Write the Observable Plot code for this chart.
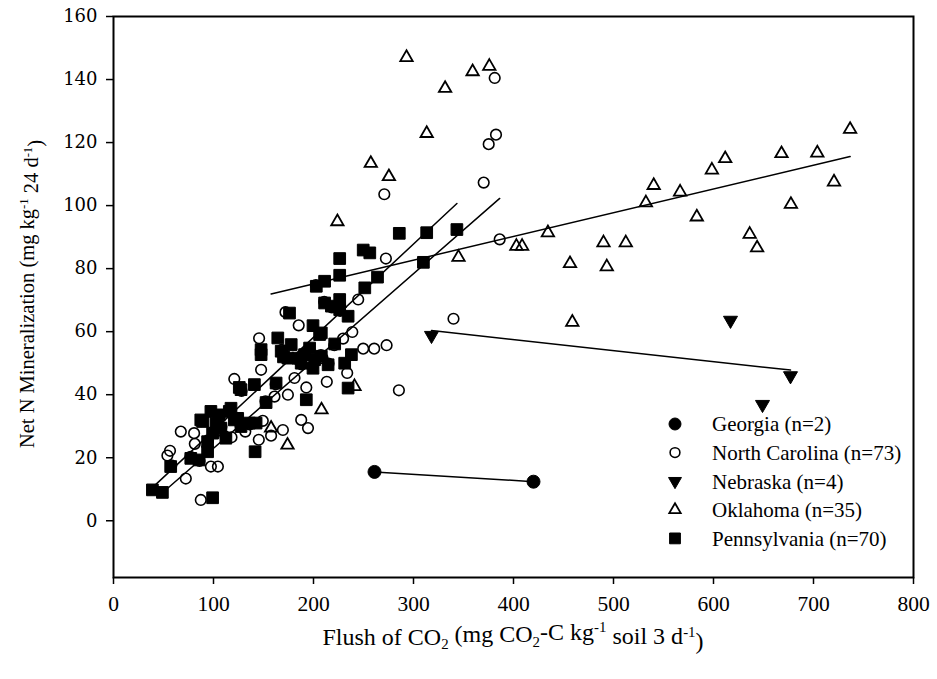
<!DOCTYPE html>
<html>
<head>
<meta charset="utf-8">
<script src="https://cdn.jsdelivr.net/npm/d3@7"></script>
<script src="https://cdn.jsdelivr.net/npm/@observablehq/plot@0.6"></script>
<style>
  body { margin: 0; background: #fff; }
  #chart { width: 937px; height: 679px; }
  #chart svg { display: block; overflow: visible; }
</style>
</head>
<body>
<div id="chart"></div>
<script>
// Flush of CO2 (x) vs. net N mineralization (y), by state.
const georgiaX = [261, 420];
const georgiaY = [15.5, 12.4];

const nebraskaX = [318, 617, 677, 649];
const nebraskaY = [58.8, 63.6, 46.0, 36.9];

const oklahomaX = [293, 359.1, 375.8, 331.6, 313.2, 257.3, 275.4, 223.9, 736.6, 668, 703.8, 611.7,
  598.4, 720.5, 540.2, 566.6, 677.4, 532.4, 583.3, 434.4, 402.9, 408.6, 490, 512.3, 636.2, 643.6,
  345, 456.5, 493.3, 458.8, 174, 208, 157.6, 241, 226];
const oklahomaY = [147, 142.5, 144.2, 137.2, 122.9, 113.4, 109.2, 94.9, 124.2, 116.5, 116.7, 114.9,
  111.3, 107.5, 106.4, 104.3, 100.4, 100.9, 96.4, 91.4, 87.1, 87.1, 88.2, 88.2, 90.9, 86.6,
  83.6, 81.6, 80.6, 63, 24, 35.2, 29.4, 42.6, 69];

const northCarolinaX = [53.9, 56.5, 72.3, 87.3, 67.3, 80.6, 81.3, 104.4, 97.4, 102.4, 118, 131.8,
  145.3, 157.6, 169.4, 149.3, 161, 174.4, 181, 192.8, 187.7, 194.5, 120.8, 147.6, 145.6, 172,
  185.2, 209, 213.3, 233.7, 229.6, 238.8, 244.7, 249.7, 260.7, 273.1, 272.4, 270.8, 285.4, 340,
  386.2, 370.2, 375.2, 382.5, 381.2,
  57.8, 77, 86, 94.5, 87.8, 105, 107.9, 117, 121.3, 127, 112, 99.6, 136.2, 152, 128, 162.2,
  168.2, 184, 191.5, 199, 188.1, 207.4, 215, 220.8, 218.3, 210.7, 226.6, 202.4];
const northCarolinaY = [20.7, 22.2, 13.4, 6.6, 28.3, 27.8, 24.4, 17.2, 17.2, 28.3, 26.5, 28.3,
  25.7, 27, 28.8, 31.7, 39.4, 40, 45.3, 42.3, 32, 29.4, 45, 47.9, 57.9, 66.2,
  62, 51.6, 44.1, 46.9, 57.8, 59.9, 70.2, 54.6, 54.6, 55.7, 83.2, 103.6, 41.4, 64.1,
  89.3, 107.3, 119.5, 122.5, 140.5,
  17.6, 20.3, 19, 25.5, 31.6, 33.2, 29.8, 35.3, 32.4, 30.3, 26.7, 28.1, 30.6, 37.9, 41.2, 43.3,
  54.2, 51.2, 53.1, 48.8, 49.6, 52.6, 49.9, 55.7, 67.7, 69.5, 66.6, 74.8];

const pennsylvaniaX = [38.9, 48.9, 99.1, 57.2, 77.3, 85.6, 94.1, 94.1, 87.3, 97.4, 105.7, 107.4,
  117.5, 120.8, 127.5, 112.4, 99.1, 89.1, 102.4, 115.8, 124.2, 142.6, 141.6, 135.8, 152.6, 127.5,
  140.9, 125.8, 162.6, 147.6, 147.6, 164.3, 167.7, 174.4, 184.4, 191.1, 201.1, 199.5, 187.7, 196.1,
  207.8, 214.6, 192.8, 234.6, 237.9, 231.2, 221.2, 207.8, 177.7, 176, 199.5, 206.1, 234.6, 226.2,
  226.2, 217.9, 211.1, 202.8, 211.1, 226.2, 264, 251.3, 226.2, 249.7, 256.3, 285.8, 313.2, 343.4,
  309.9, 170];
const pennsylvaniaY = [9.8, 9.0, 7.3, 17.2, 19.8, 19.3, 21.9, 25.1, 32, 34.7, 33.6, 29.4,
  35.7, 32, 29.9, 26.2, 27.8, 31.5, 31, 34.7, 32.5, 31, 21.9, 31, 37.5, 41.6,
  43.2, 42.3, 43.7, 52.7, 54.3, 58, 53.8, 51.6, 51.6, 52.7, 51.1, 48.4, 50, 54.8,
  52.2, 49.5, 38.4, 42.1, 52.7, 50, 56.1, 59.6, 55.9, 65.9, 61.9, 59.1, 64.9, 67,
  70.2, 68.1, 69.1, 74.4, 76, 77.9, 77.3, 73.9, 83.2, 85.9, 85, 91.2, 91.4, 92.4,
  82, 52];

// Legend order, sample counts and fitted lines (slope, intercept) per state
const states = ["Georgia", "North Carolina", "Nebraska", "Oklahoma", "Pennsylvania"];
const counts = [2, 73, 4, 35, 70];
const fitSlope = [-0.0195, 0.277, -0.035, 0.0753, 0.296];
const fitIntercept = [20.6, -4.7, 71.5, 60.1, -1.0];

const xTicks = [0, 100, 200, 300, 400, 500, 600, 700, 800];
const yTicks = [0, 20, 40, 60, 80, 100, 120, 140, 160];

const seriesX = [georgiaX, northCarolinaX, nebraskaX, oklahomaX, pennsylvaniaX];
const seriesY = [georgiaY, northCarolinaY, nebraskaY, oklahomaY, pennsylvaniaY];

// marker style per state
const markerStyle = [
  {symbol: "circle", r: 6.5, fill: "black", stroke: "black", strokeWidth: 1, rotate: 0},
  {symbol: "circle", r: 5.3, fill: "none", stroke: "black", strokeWidth: 1.6, rotate: 0},
  {symbol: "triangle", r: 5.2, fill: "black", stroke: "black", strokeWidth: 1, rotate: 180},
  {symbol: "triangle", r: 4.6, fill: "none", stroke: "black", strokeWidth: 1.8, rotate: 0},
  {symbol: "square", r: 6.6, fill: "black", stroke: "black", strokeWidth: 1, rotate: 0}
];

const rows = states.map((s, i) => seriesX[i].map((x, j) => ({state: s, x, y: seriesY[i][j]})));

// fitted line across each state's x range
const fitRows = states.flatMap((s, i) => {
  const [x0, x1] = d3.extent(seriesX[i]);
  return [x0, x1].map(x => ({state: s, x, y: fitIntercept[i] + fitSlope[i] * x}));
});

const font = "'Liberation Serif', 'Times New Roman', Times, serif";
const yTickFont = "'DejaVu Serif', Georgia, serif";

const dotMarks = [1, 3, 2, 0, 4].map(i => Plot.dot(rows[i], {
  x: "x", y: "y",
  symbol: markerStyle[i].symbol,
  r: markerStyle[i].r,
  fill: markerStyle[i].fill,
  stroke: markerStyle[i].stroke,
  strokeWidth: markerStyle[i].strokeWidth,
  rotate: markerStyle[i].rotate
}));

const margin = {top: 16, right: 24, bottom: 102, left: 113};

const plot = Plot.plot({
  width: 937,
  height: 679,
  marginTop: margin.top,
  marginRight: margin.right,
  marginBottom: margin.bottom,
  marginLeft: margin.left,
  x: {domain: [0, 800]},
  y: {domain: [-18, 160]},
  style: {fontFamily: font, background: "white", color: "black"},
  marks: [
    ...dotMarks,
    Plot.line(fitRows, {x: "x", y: "y", z: "state", stroke: "black", strokeWidth: 1.5}),
    Plot.frame({stroke: "black", strokeWidth: 2}),
    Plot.axisX({ticks: xTicks, tickSize: 7, tickPadding: 11, fontSize: 21.5, label: null,
      strokeWidth: 1.5, tickFormat: d => String(d)}),
    Plot.axisY({ticks: yTicks, tickSize: 7, tickPadding: 9, fontSize: 18, fontFamily: yTickFont,
      label: null, strokeWidth: 1.5, tickFormat: d => String(d)})
  ]
});

document.getElementById("chart").appendChild(plot);

// axis titles with sub/superscripts, and the in-plot legend
const svg = d3.select(plot);
const frameLeft = margin.left, frameRight = 937 - margin.right;
const frameTop = margin.top, frameBottom = 679 - margin.bottom;

function richText(g, parts) {
  parts.forEach(([t, kind]) => {
    const ts = g.append("tspan").text(t);
    if (kind === "sub") ts.attr("font-size", "0.62em").attr("dy", "0.3em");
    else if (kind === "sup") ts.attr("font-size", "0.62em").attr("dy", "-0.5em");
    else if (kind === "subEnd") ts.attr("dy", "-0.3em");
    else if (kind === "supEnd") ts.attr("dy", "0.5em");
  });
}

const xTitle = svg.append("text")
  .attr("x", (frameLeft + frameRight) / 2).attr("y", frameBottom + 68)
  .attr("text-anchor", "middle").attr("font-family", font).attr("font-size", 24)
  .attr("fill", "black");
richText(xTitle, [
  ["Flush of CO"], ["2", "sub"], [" (mg CO", "subEnd"], ["2", "sub"], ["-C kg", "subEnd"],
  ["-1", "sup"], [" soil 3 d", "supEnd"], ["-1", "sup"], [")", "supEnd"]
]);

const yTitle = svg.append("text")
  .attr("transform", `translate(34,294) rotate(-90)`)
  .attr("text-anchor", "middle").attr("font-family", font).attr("font-size", 20.5)
  .attr("fill", "black");
richText(yTitle, [
  ["Net N Mineralization (mg kg"], ["-1", "sup"], [" 24 d", "supEnd"], ["-1", "sup"], [")", "supEnd"]
]);

const legend = svg.append("g").attr("transform", `translate(${frameRight - 238},${frameBottom - 153})`);
states.forEach((s, i) => {
  const m = markerStyle[i];
  const sym = {circle: d3.symbolCircle, triangle: d3.symbolTriangle, square: d3.symbolSquare}[m.symbol];
  const row = legend.append("g").attr("transform", `translate(0,${i * 28.6})`);
  row.append("path")
    .attr("d", d3.symbol(sym, Math.PI * m.r * m.r * 0.85)())
    .attr("transform", `rotate(${m.rotate})`)
    .attr("fill", m.fill).attr("stroke", m.stroke).attr("stroke-width", m.strokeWidth);
  row.append("text")
    .attr("x", 37).attr("dy", "0.35em")
    .attr("text-anchor", "start")
    .attr("font-family", font).attr("font-size", 21).attr("fill", "black")
    .text(`${s} (n=${counts[i]})`);
});
</script>
</body>
</html>
